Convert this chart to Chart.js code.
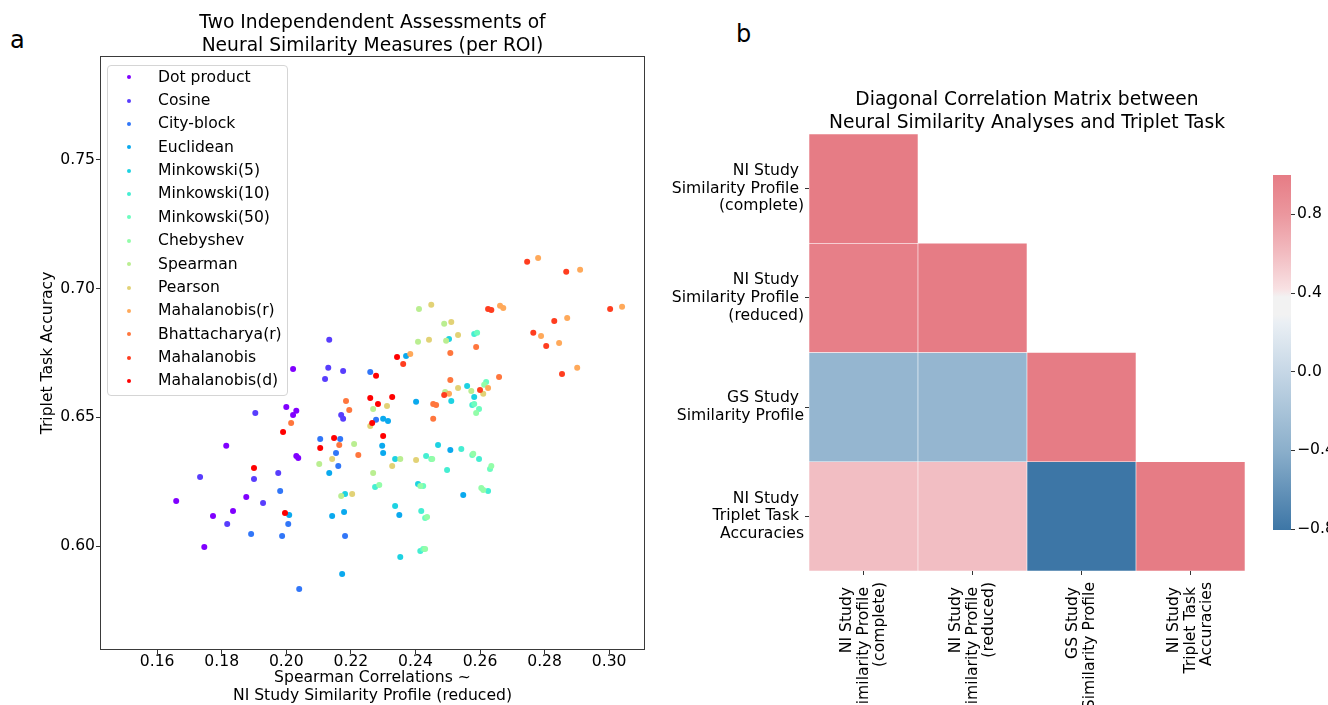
<!DOCTYPE html>
<html><head><meta charset="utf-8">
<script src="https://cdn.jsdelivr.net/npm/chart.js@4.4.1/dist/chart.umd.min.js"></script>
<style>
html,body{margin:0;padding:0;background:#fff;}
body{width:1328px;height:705px;position:relative;overflow:hidden;font-family:'DejaVu Sans',sans-serif;color:#000;}
.panel{position:absolute;font-size:24px;line-height:24px;}
canvas{position:absolute;}
#legend{position:absolute;left:107px;top:64.5px;width:181px;height:331px;box-sizing:border-box;border:1px solid #d5d5d5;border-radius:4px;background:rgba(255,255,255,0.8);z-index:5;}
.li{height:23.38px;position:relative;font-size:15.6px;line-height:23.38px;white-space:nowrap;}
.li i{position:absolute;left:19px;top:9.7px;width:4px;height:4px;border-radius:50%;}
.li span{position:absolute;left:50px;top:0;}
</style></head>
<body>
<div class="panel" style="left:10px;top:28px;">a</div>
<div class="panel" style="left:736px;top:22px;">b</div>
<canvas id="scatter" width="660" height="705" style="left:0;top:0;"></canvas>
<div id="legend"></div>
<canvas id="heat" width="668" height="705" style="left:660px;top:0;"></canvas>
<canvas id="cbar" width="88" height="400" style="left:1240px;top:150px;z-index:3;"></canvas>
<script>
// ---------- Panel a data (x = Spearman correlation, y = triplet task accuracy) ----------
const dotProduct = [[0.1659,0.6175],[0.1814,0.6389],[0.1876,0.6190],[0.1773,0.6117],[0.1835,0.6136],[0.1746,0.5996],[0.2021,0.6688],[0.2000,0.6540],[0.2031,0.6525],[0.2021,0.6509],[0.2031,0.6350],[0.2037,0.6342]];
const cosine = [[0.1904,0.6517],[0.1733,0.6268],[0.1900,0.6260],[0.1975,0.6284],[0.1928,0.6167],[0.1817,0.6085],[0.2133,0.6801],[0.2130,0.6692],[0.2176,0.6680],[0.2120,0.6649],[0.2170,0.6509],[0.2176,0.6494]];
const cityBlock = [[0.1891,0.6047],[0.1981,0.6214],[0.2260,0.6676],[0.2278,0.6490],[0.2105,0.6416],[0.2167,0.6416],[0.2154,0.6361],[0.2161,0.6311],[0.2006,0.6085],[0.1987,0.6039],[0.2182,0.6039],[0.2040,0.5833]];
const euclidean = [[0.2133,0.6284],[0.2009,0.6120],[0.2142,0.6117],[0.2179,0.6132],[0.2173,0.5891],[0.2371,0.6738],[0.2402,0.6560],[0.2300,0.6494],[0.2315,0.6486],[0.2297,0.6389],[0.2300,0.6361],[0.2508,0.6373],[0.2548,0.6198],[0.2350,0.6120]];
const minkowski5 = [[0.2182,0.6202],[0.2504,0.6804],[0.2560,0.6622],[0.2511,0.6563],[0.2470,0.6392],[0.2337,0.6338],[0.2582,0.6579],[0.2408,0.6241],[0.2337,0.6155],[0.2353,0.5957]];
const minkowski10 = [[0.2542,0.6377],[0.2433,0.6350],[0.2498,0.6295],[0.2582,0.6824],[0.2576,0.6548],[0.2597,0.6338],[0.2625,0.6214],[0.2418,0.6136],[0.2415,0.5981],[0.2275,0.6229]];
const minkowski50 = [[0.2591,0.6828],[0.2582,0.6552],[0.2597,0.6532],[0.2619,0.6637],[0.2576,0.6354],[0.2631,0.6299],[0.2449,0.6338],[0.2424,0.6233],[0.2430,0.6109],[0.2424,0.5988]];
const chebyshev = [[0.2613,0.6626],[0.2588,0.6517],[0.2579,0.6358],[0.2635,0.6311],[0.2604,0.6225],[0.2610,0.6218],[0.2452,0.6338],[0.2415,0.6233],[0.2436,0.6113],[0.2430,0.5988],[0.2288,0.6237]];
const spearman = [[0.2269,0.6532],[0.2210,0.6396],[0.2269,0.6284],[0.2102,0.6319],[0.2170,0.6194],[0.2411,0.6921],[0.2489,0.6863],[0.2495,0.6797],[0.2408,0.6793],[0.2492,0.6598],[0.2573,0.6602],[0.2353,0.6338]];
const pearson = [[0.2260,0.6466],[0.2142,0.6338],[0.2204,0.6202],[0.2449,0.6937],[0.2511,0.6870],[0.2532,0.6820],[0.2442,0.6801],[0.2532,0.6614],[0.2312,0.6544],[0.2402,0.6334],[0.2328,0.6311],[0.2610,0.6591]];
const mahalanobisR = [[0.2384,0.6746],[0.2504,0.6591],[0.2662,0.6933],[0.2672,0.6925],[0.2789,0.6816],[0.2845,0.6789],[0.2780,0.7119],[0.2910,0.7073],[0.3040,0.6929],[0.2870,0.6886],[0.2901,0.6692],[0.2625,0.6614]];
const bhattacharyaR = [[0.2015,0.6478],[0.2185,0.6563],[0.2195,0.6528],[0.2164,0.6392],[0.2223,0.6354],[0.2508,0.6750],[0.2508,0.6645],[0.2455,0.6552],[0.2464,0.6548],[0.2455,0.6494],[0.2588,0.6773],[0.2659,0.6657]];
const mahalanobis = [[0.2362,0.6707],[0.2489,0.6587],[0.2625,0.6921],[0.2635,0.6917],[0.2830,0.6874],[0.2765,0.6828],[0.2805,0.6777],[0.2600,0.6606],[0.2746,0.7104],[0.2867,0.7065],[0.3003,0.6921],[0.2854,0.6668]];
const mahalanobisD = [[0.1990,0.6443],[0.1900,0.6303],[0.2260,0.6575],[0.2284,0.6552],[0.2148,0.6420],[0.2105,0.6381],[0.1996,0.6128],[0.2278,0.6661],[0.2328,0.6579],[0.2300,0.6427],[0.2343,0.6734],[0.2266,0.6478]];

const seriesNames = ['Dot product','Cosine','City-block','Euclidean','Minkowski(5)','Minkowski(10)','Minkowski(50)','Chebyshev','Spearman','Pearson','Mahalanobis(r)','Bhattacharya(r)','Mahalanobis','Mahalanobis(d)'];
const seriesPoints = [dotProduct,cosine,cityBlock,euclidean,minkowski5,minkowski10,minkowski50,chebyshev,spearman,pearson,mahalanobisR,bhattacharyaR,mahalanobis,mahalanobisD];
const xTickValues = [0.16,0.18,0.20,0.22,0.24,0.26,0.28,0.30];
const yTickValues = [0.60,0.65,0.70,0.75];
const xRange = [0.1423, 0.3111];
const yRange = [0.5596, 0.7904];
const scatterTitle = ['Two Independendent Assessments of', 'Neural Similarity Measures (per ROI)'];
const scatterXTitle = ['Spearman Correlations ~', 'NI Study Similarity Profile (reduced)'];
const scatterYTitle = 'Triplet Task Accuracy';

// ---------- Panel b data ----------
const matrixLabels = [
  ['NI Study ','Similarity Profile ','(complete)'],
  ['NI Study ','Similarity Profile ','(reduced)'],
  ['GS Study ','Similarity Profile'],
  ['NI Study ','Triplet Task ','Accuracies']
];
const corrRow0 = [1.0];
const corrRow1 = [0.98, 1.0];
const corrRow2 = [-0.33, -0.33, 1.0];
const corrRow3 = [0.59, 0.59, -0.805, 1.0];
const corrValues = [corrRow0, corrRow1, corrRow2, corrRow3];
const colorbarTicks = [-0.8, -0.4, 0.0, 0.4, 0.8];
const heatTitle = ['Diagonal Correlation Matrix between', 'Neural Similarity Analyses and Triplet Task'];

// ---------- styles ----------
const seriesColors = ['#8000ff','#583dfd','#3176f8','#0aa9ee','#1dd2e2','#45eed2','#6cfdbf','#93fda9','#baee91','#e2d276','#ffa95a','#ff763d','#ff3d1f','#ff0000'];
const cmapStops = [[-0.805,'#3d76a6'],[-0.4,'#8bafcb'],[0.0,'#c6d7e6'],[0.25,'#eaeff4'],[0.29,'#f2f2f2'],[0.38,'#f2f2f2'],[0.42,'#f8e1e3'],[0.6,'#f2bcc1'],[0.8,'#eb979e'],[1.0,'#e67c85']];
const FONT = "'DejaVu Sans', sans-serif";
const BASE = 15.6;
Chart.defaults.font.family = FONT;
Chart.defaults.color = '#000';

function hexToRgb(h){ return [1,3,5].map(i => parseInt(h.substr(i,2),16)); }
function cmap(v){
  if (v <= cmapStops[0][0]) return cmapStops[0][1];
  for (let i = 1; i < cmapStops.length; i++) {
    const [v1, c1] = cmapStops[i];
    if (v <= v1) {
      const [v0, c0] = cmapStops[i-1];
      const t = (v - v0) / (v1 - v0);
      const a = hexToRgb(c0), b = hexToRgb(c1);
      return 'rgb(' + a.map((x,k) => Math.round(x + (b[k]-x)*t)).join(',') + ')';
    }
  }
  return cmapStops[cmapStops.length-1][1];
}

const framePlugin = {
  id: 'frame',
  afterDraw(chart) {
    const {ctx, chartArea: a} = chart;
    ctx.save();
    ctx.strokeStyle = '#3a3a3a';
    ctx.lineWidth = 1;
    const l = Math.round(a.left), t = Math.round(a.top), r = Math.round(a.right), b = Math.round(a.bottom);
    ctx.strokeRect(l + 0.5, t + 0.5, r - l - 1, b - t - 1);
    ctx.restore();
  }
};

const htmlLegend = {
  id: 'htmlLegend',
  afterUpdate(chart) {
    const box = document.getElementById('legend');
    box.innerHTML = '';
    chart.data.datasets.forEach(ds => {
      const row = document.createElement('div'); row.className = 'li';
      const dot = document.createElement('i'); dot.style.background = ds.backgroundColor;
      const txt = document.createElement('span'); txt.textContent = ds.label;
      row.append(dot, txt); box.appendChild(row);
    });
  }
};

// ---------- Panel a: scatter ----------
new Chart(document.getElementById('scatter'), {
  type: 'scatter',
  data: {
    datasets: seriesNames.map((name, i) => ({
      label: name,
      data: seriesPoints[i].map(([x, y]) => ({x, y})),
      backgroundColor: seriesColors[i],
      borderColor: seriesColors[i],
      pointRadius: 3, pointHoverRadius: 3, pointBorderWidth: 0,
      order: seriesNames.length - i
    }))
  },
  options: {
    responsive: false, animation: false, devicePixelRatio: 1,
    layout: {padding: {left: 0, right: 15, top: 0, bottom: 0}},
    plugins: {
      legend: {display: false}, tooltip: {enabled: false},
      title: {display: true, text: scatterTitle, fullSize: false, color: '#000',
        font: {size: 18.7, weight: 'normal', lineHeight: 1.2}, padding: {top: 12, bottom: -1}}
    },
    scales: {
      x: {
        type: 'linear', position: 'bottom', min: xRange[0], max: xRange[1],
        afterBuildTicks: s => { s.ticks = xTickValues.map(v => ({value: v})); },
        afterFit: s => { s.height = 55; },
        ticks: {callback: v => v.toFixed(2), font: {size: BASE, lineHeight: 1}, padding: 0, maxRotation: 0, autoSkip: false, color: '#000'},
        grid: {drawOnChartArea: false, drawTicks: true, tickLength: 4, tickColor: '#333'},
        border: {display: false},
        title: {display: true, text: scatterXTitle, font: {size: BASE, lineHeight: 1.15}, padding: {top: 0, bottom: 0}, color: '#000'}
      },
      y: {
        type: 'linear', position: 'left', min: yRange[0], max: yRange[1],
        afterBuildTicks: s => { s.ticks = yTickValues.map(v => ({value: v})); },
        afterFit: s => { s.width = 100; },
        ticks: {callback: v => v.toFixed(2), font: {size: BASE, lineHeight: 1}, padding: 1, autoSkip: false, color: '#000'},
        grid: {drawOnChartArea: false, drawTicks: true, tickLength: 4, tickColor: '#333'},
        border: {display: false},
        title: {display: true, text: scatterYTitle, font: {size: BASE, lineHeight: 1.2}, padding: {top: 38.6, bottom: 0}, color: '#000'}
      }
    }
  },
  plugins: [framePlugin, htmlLegend]
});

// ---------- Panel b: heatmap (lower triangle) ----------
const xLineH = 16.5;
const heatDatasets = corrValues.map((row, r) => ({
  label: 'row ' + r,
  data: matrixLabels.map((_, c) => c <= r ? [r, r + 1] : null),
  backgroundColor: matrixLabels.map((_, c) => c <= r ? cmap(row[c]) : 'rgba(0,0,0,0)'),
  borderColor: '#ffffff', borderWidth: 0.6, borderSkipped: false,
  grouped: false, barPercentage: 1, categoryPercentage: 1,
  xAxisID: 'x', yAxisID: 'y'
}));
const labelAxis = (lines) => ({
  type: 'category', axis: 'x', position: {y: matrixLabels.length}, offset: true,
  labels: matrixLabels.map(l => l.length === lines ? l : ''),
  min: 0, max: matrixLabels.length - 1,
  grid: {display: false, drawTicks: false}, border: {display: false},
  ticks: {minRotation: 90, maxRotation: 90, autoSkip: false, padding: 11,
    labelOffset: -xLineH * (lines - 1) / 2, font: {size: BASE, lineHeight: xLineH / BASE}, color: '#000'}
});
new Chart(document.getElementById('heat'), {
  type: 'bar',
  data: {labels: matrixLabels, datasets: heatDatasets},
  options: {
    responsive: false, animation: false, devicePixelRatio: 1,
    layout: {padding: {left: 0, right: 83, top: 87, bottom: 0}},
    plugins: {
      legend: {display: false}, tooltip: {enabled: false},
      title: {display: true, text: heatTitle, fullSize: false, color: '#000',
        font: {size: 18.7, weight: 'normal', lineHeight: 1.2}, padding: {top: 2, bottom: 0}}
    },
    scales: {
      x: {
        type: 'category', position: 'bottom', offset: true,
        afterFit: s => { s.height = 134; },
        ticks: {display: false},
        grid: {offset: false, drawOnChartArea: false, drawTicks: true, tickLength: 4, tickColor: '#333'},
        border: {display: false}
      },
      xa: labelAxis(3),
      xb: labelAxis(2),
      y: {
        type: 'linear', position: 'left', min: 0, max: matrixLabels.length, reverse: true,
        afterBuildTicks: s => { s.ticks = matrixLabels.map((_, i) => ({value: i + 0.5})); },
        afterFit: s => { s.width = 149; },
        ticks: {callback: (v, i) => matrixLabels[i], font: {size: BASE, lineHeight: 1.14}, padding: 1, autoSkip: false, color: '#000'},
        grid: {drawOnChartArea: false, drawTicks: true, tickLength: 4, tickColor: '#333'},
        border: {display: false}
      }
    }
  }
});

// ---------- Colorbar ----------
const cbMin = Math.min(...corrValues.flat());
const cbMax = Math.max(...corrValues.flat());
new Chart(document.getElementById('cbar'), {
  type: 'bar',
  data: {labels: [''], datasets: [{
    data: [[cbMin, cbMax]],
    backgroundColor: (ctx) => {
      const chart = ctx.chart;
      if (!chart.chartArea) return cmapStops[0][1];
      const ys = chart.scales.y;
      const g = chart.ctx.createLinearGradient(0, ys.getPixelForValue(cbMin), 0, ys.getPixelForValue(cbMax));
      cmapStops.forEach(([v, c]) => g.addColorStop(Math.min(1, Math.max(0, (v - cbMin) / (cbMax - cbMin))), c));
      return g;
    },
    borderWidth: 0, barPercentage: 1, categoryPercentage: 1
  }]},
  options: {
    responsive: false, animation: false, devicePixelRatio: 1,
    layout: {padding: {left: 33, right: 0, top: 25, bottom: 20}},
    plugins: {legend: {display: false}, tooltip: {enabled: false}},
    scales: {
      x: {display: false},
      y: {
        position: 'right', min: cbMin, max: cbMax,
        afterBuildTicks: s => { s.ticks = colorbarTicks.map(v => ({value: v})); },
        afterFit: s => { s.width = 37; },
        ticks: {callback: v => (v < 0 ? '\u2212' : '') + Math.abs(v).toFixed(1), font: {size: BASE, lineHeight: 1}, padding: 2, color: '#000'},
        grid: {drawOnChartArea: false, drawTicks: true, tickLength: 4, tickColor: '#333'},
        border: {display: false}
      }
    }
  }
});
</script>
</body></html>
